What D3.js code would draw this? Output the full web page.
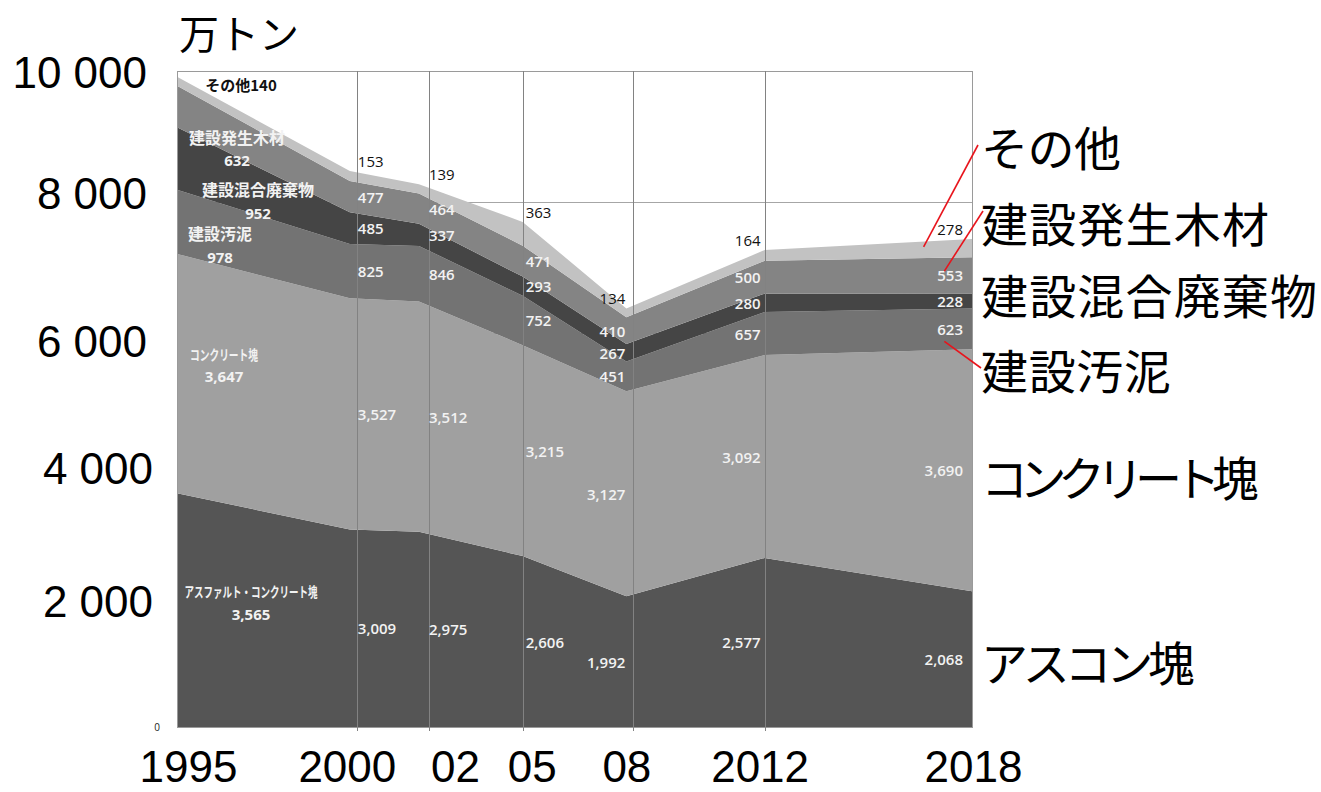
<!DOCTYPE html>
<html><head><meta charset="utf-8">
<script src="https://cdn.jsdelivr.net/npm/d3@7"></script>
<style>
html,body{margin:0;padding:0;background:#fff;}
svg{display:block;}
</style></head>
<body>
<svg id="chart" width="1321" height="792"></svg>
<script>
// ---------- data ----------
const years        = [1995, 2000, 2002, 2005, 2008, 2012, 2018];
const xTickLabels  = ["1995", "2000", "02", "05", "08", "2012", "2018"];
const asphalt      = [3565, 3009, 2975, 2606, 1992, 2577, 2068]; // アスファルト・コンクリート塊
const concrete     = [3647, 3527, 3512, 3215, 3127, 3092, 3690]; // コンクリート塊
const sludge       = [978, 825, 846, 752, 451, 657, 623];        // 建設汚泥
const mixed        = [952, 485, 337, 293, 267, 280, 228];        // 建設混合廃棄物
const wood         = [632, 477, 464, 471, 410, 500, 553];        // 建設発生木材
const other        = [140, 153, 139, 363, 134, 164, 278];        // その他
const seriesKeys   = ["asphalt", "concrete", "sludge", "mixed", "wood", "other"];
const seriesNames  = ["アスファルト・コンクリート塊", "コンクリート塊", "建設汚泥", "建設混合廃棄物", "建設発生木材", "その他"];
const legendNames  = ["アスコン塊", "コンクリート塊", "建設汚泥", "建設混合廃棄物", "建設発生木材", "その他"];
const yTicks       = [2000, 4000, 6000, 8000, 10000];
const gridYears    = [2000.2, 2002.3, 2005, 2008.2, 2012];
const unitLabel    = "万トン";
// leader-line targets (year, value) for legend entries: sludge, wood, other
const leaderTargets = {sludge: [2017.2, 5880], wood: [2017.2, 6950], other: [2016.6, 7320]};

// ---------- styles / layout ----------
const colors = {asphalt:"#555555", concrete:"#a0a0a0", sludge:"#737373", mixed:"#454545", wood:"#848484", other:"#c2c2c2"};
const LAT = "'Liberation Sans', Arial, sans-serif";
const CJK = "'Noto Sans CJK JP', sans-serif";
const NUM = "'Open Sans', 'Noto Sans', sans-serif";

const svg = d3.select("#chart");
const x = d3.scaleLinear().domain([1995, 2018]).range([177, 972]);
const y = d3.scaleLinear().domain([0, 10000]).range([727, 71]);

const rows = years.map((yr, i) => ({year: yr, asphalt: asphalt[i], concrete: concrete[i], sludge: sludge[i], mixed: mixed[i], wood: wood[i], other: other[i]}));
const stacked = d3.stack().keys(seriesKeys)(rows);

// horizontal gridlines behind
svg.append("g").selectAll("line").data(yTicks.slice(0, -1)).join("line")
  .attr("x1", x(1995)).attr("x2", x(2018))
  .attr("y1", d => Math.round(y(d)) + 0.5).attr("y2", d => Math.round(y(d)) + 0.5)
  .attr("stroke", "#a6a6a6").attr("stroke-width", 1);

// areas
const area = d3.area().x(d => x(d.data.year)).y0(d => y(d[0])).y1(d => y(d[1]));
svg.append("g").selectAll("path").data(stacked).join("path")
  .attr("d", area).attr("fill", d => colors[d.key]);

// frame
const frame = svg.append("g").attr("stroke", "#9a9a9a").attr("stroke-width", 1).attr("fill", "none");
frame.append("line").attr("x1", x(1995)).attr("x2", x(2018)).attr("y1", y(10000)+0.5).attr("y2", y(10000)+0.5);
frame.append("line").attr("x1", x(1995)+0.5).attr("x2", x(1995)+0.5).attr("y1", y(10000)).attr("y2", y(0));
frame.append("line").attr("x1", x(2018)+0.5).attr("x2", x(2018)+0.5).attr("y1", y(10000)).attr("y2", y(0)+1);
frame.append("line").attr("x1", x(1995)).attr("x2", x(2018)).attr("y1", y(0)+0.5).attr("y2", y(0)+0.5);

// vertical gridlines (drawn over areas)
svg.append("g").selectAll("line").data(gridYears).join("line")
  .attr("x1", d => Math.round(x(d))+0.5).attr("x2", d => Math.round(x(d))+0.5)
  .attr("y1", y(10000)).attr("y2", y(0)+4)
  .attr("stroke", "#828282").attr("stroke-width", 1);

// ---------- value labels ----------
const lab = svg.append("g");
const fmtComma = d3.format(",");
const fmtVal = (key, v) => (key === "asphalt" || key === "concrete") ? fmtComma(v) : String(v);
// horizontal placement per year index (1..6)
const yearDx = [0, 8, 10, 3, -1, -4, -9];
stacked.forEach(s => {
  s.forEach((d, i) => {
    if (i === 0) return;
    const dx = yearDx[i];
    const anchor = dx > 0 ? "start" : "end";
    const isOther = s.key === "other";
    const cy = isOther ? y(d[1]) - 10 : y((d[0] + d[1]) / 2);
    lab.append("text")
      .attr("x", x(d.data.year) + dx).attr("y", cy)
      .attr("text-anchor", anchor).attr("dominant-baseline", "central")
      .attr("font-family", NUM).attr("font-size", 15)
      .attr("font-weight", isOther ? 400 : 600)
      .attr("fill", isOther ? "#111" : "#f2f2f2")
      .text(fmtVal(s.key, d.data[s.key]));
  });
});

// first-year labels with category names (layout nudges: dx, dyName, dyValue relative to layer middle)
const firstNudge = {
  asphalt:  {dx: 74, dyN: -19, dyV: 4,  compress: 133},
  concrete: {dx: 47, dyN: -20, dyV: 2,  compress: 68},
  sludge:   {dx: 43, dyN: 11,  dyV: 35},
  mixed:    {dx: 81, dyN: 30,  dyV: 54},
  wood:     {dx: 60, dyN: 30,  dyV: 53}
};
stacked.forEach((s, si) => {
  const d = s[0];
  const cx = x(d.data.year);
  if (s.key === "other") {
    lab.append("text").attr("x", cx + 64).attr("y", y(d[1]) + 8)
      .attr("text-anchor", "middle").attr("dominant-baseline", "central")
      .attr("font-family", CJK).attr("font-size", 15).attr("font-weight", 700).attr("fill", "#111")
      .text(seriesNames[si] + d.data.other);
    return;
  }
  const n = firstNudge[s.key];
  const mid = y((d[0] + d[1]) / 2);
  const t = lab.append("text").attr("x", cx + n.dx).attr("y", mid + n.dyN)
    .attr("text-anchor", "middle").attr("dominant-baseline", "central")
    .attr("font-family", CJK).attr("font-size", n.compress ? 14 : 16).attr("font-weight", 700)
    .attr("fill", "#f2f2f2").text(seriesNames[si]);
  if (n.compress) t.attr("textLength", n.compress).attr("lengthAdjust", "spacingAndGlyphs");
  lab.append("text").attr("x", cx + n.dx).attr("y", mid + n.dyV)
    .attr("text-anchor", "middle").attr("dominant-baseline", "central")
    .attr("font-family", NUM).attr("font-size", 15).attr("font-weight", 700)
    .attr("fill", "#f2f2f2").text(fmtVal(s.key, d.data[s.key]));
});

// ---------- axes ----------
const spaceFmt = d3.formatLocale({decimal: ".", thousands: " ", grouping: [3], currency: ["", ""]}).format(",");
// per-tick layout nudges for the hand-placed y labels (dx, dy)
const yNudge = {2000: [6, 7], 4000: [6, 5], 6000: [0, 9], 8000: [0, -8], 10000: [0, 2]};
const yAxis = svg.append("g").attr("transform", "translate(150,0)")
  .call(d3.axisLeft(y).tickValues(yTicks).tickFormat(spaceFmt).tickSize(0).tickPadding(3));
yAxis.select(".domain").remove();
yAxis.selectAll("text").attr("font-family", LAT).attr("font-size", 44).attr("fill", "#000")
  .attr("transform", d => `translate(${yNudge[d][0]},${yNudge[d][1]})`);
// small zero label
svg.append("text").attr("x", 157).attr("y", y(0)).attr("text-anchor", "middle")
  .attr("dominant-baseline", "central").attr("font-family", NUM).attr("font-size", 10).attr("fill", "#222").text("0");

const xNudge = [11, -3, 36, 9, 0, -5, 1];
const xAxis = svg.append("g").attr("transform", `translate(0,${y(0)})`)
  .call(d3.axisBottom(x).tickValues(years).tickFormat((d, i) => xTickLabels[i]).tickSize(0).tickPadding(24));
xAxis.select(".domain").remove();
xAxis.selectAll("text").attr("font-family", LAT).attr("font-size", 44).attr("fill", "#000")
  .attr("dx", (d, i) => xNudge[i]);

// unit title
svg.append("text").attr("x", 179).attr("y", 32).attr("dominant-baseline", "central")
  .attr("font-family", CJK).attr("font-size", 40).attr("fill", "#000").text(unitLabel);

// ---------- legend ----------
const legendY = {other: 145, wood: 221, mixed: 293, sludge: 368, concrete: 475, asphalt: 660};
const legendLen = {other: 140, wood: 288, mixed: 336, sludge: 190, concrete: 278, asphalt: 214};
const legendX = 981;
seriesKeys.forEach((k, i) => {
  svg.append("text").attr("x", legendX).attr("y", legendY[k]).attr("dominant-baseline", "central")
    .attr("font-family", CJK).attr("font-size", 47).attr("fill", "#000")
    .attr("textLength", legendLen[k]).attr("lengthAdjust", "spacing")
    .text(legendNames[i]);
});
// red leader lines
const leaderStart = {other: [legendX - 3, legendY.other], wood: [legendX + 2, legendY.wood - 10], sludge: [legendX, legendY.sludge]};
Object.keys(leaderTargets).forEach(k => {
  const [yr, v] = leaderTargets[k];
  svg.append("line").attr("x1", leaderStart[k][0]).attr("y1", leaderStart[k][1])
    .attr("x2", x(yr)).attr("y2", y(v)).attr("stroke", "#e8141c").attr("stroke-width", 1.6);
});
</script>
</body></html>
